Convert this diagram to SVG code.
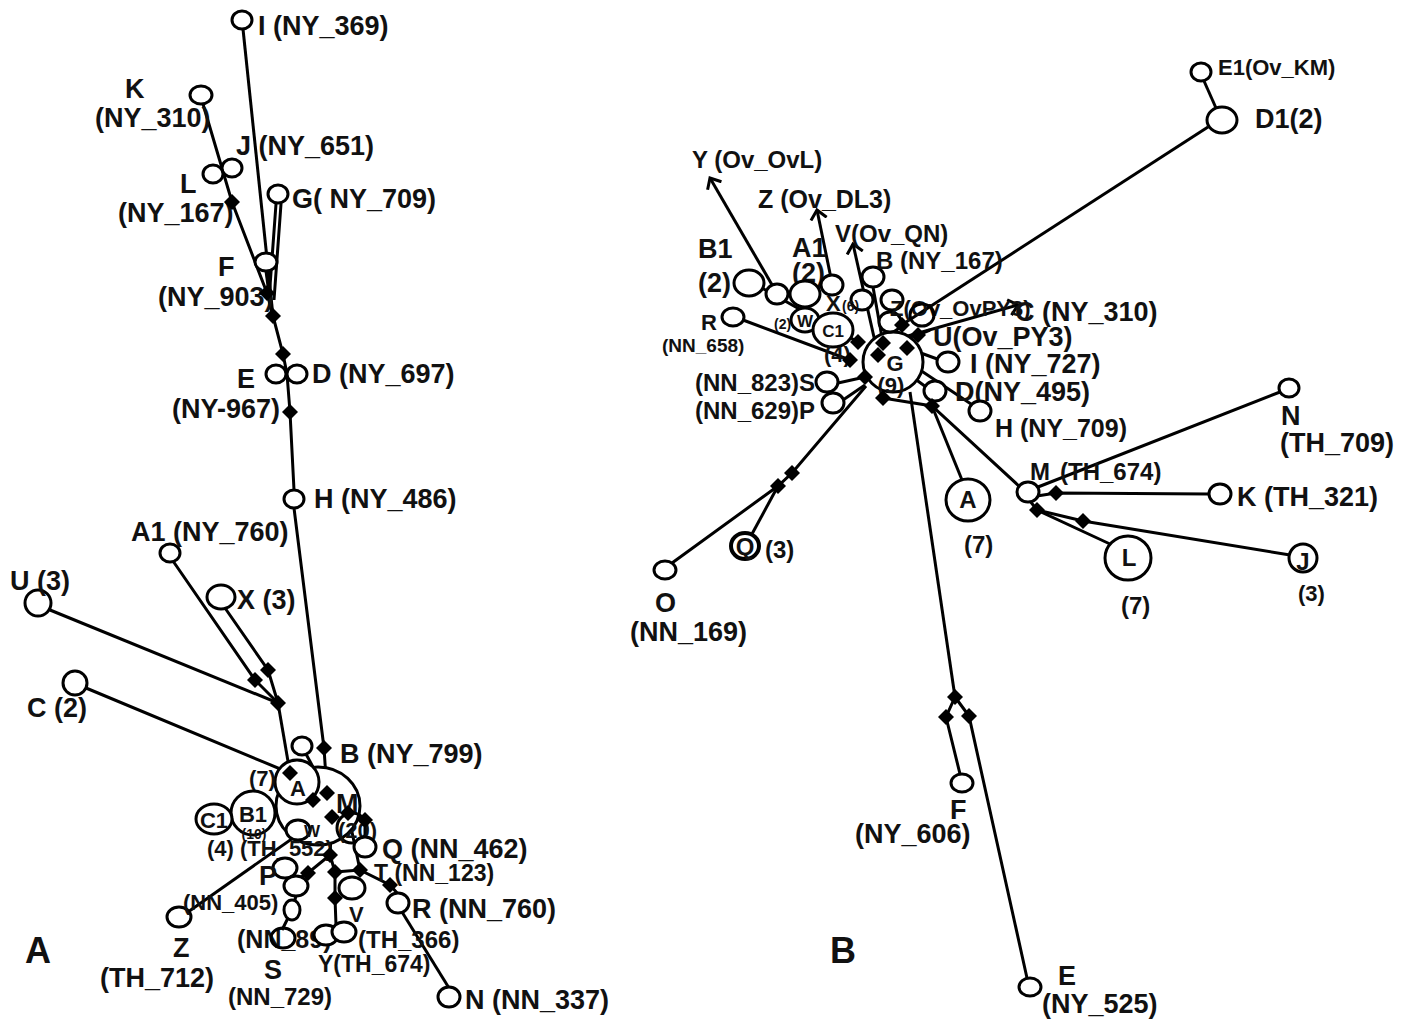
<svg xmlns="http://www.w3.org/2000/svg" xmlns:xlink="http://www.w3.org/1999/xlink" width="1408" height="1020" viewBox="0 0 1408 1020">
<style>
  .e{stroke:#000;stroke-width:3;fill:none}
  .n{fill:#fff;stroke:#000;stroke-width:3}
  .d{fill:#000}
  text{font-family:"Liberation Sans",Arial,sans-serif;font-weight:bold;fill:#111}
  .t{font-size:27px}
  .m{font-size:24px}
  .s{font-size:22px}
  .xs{font-size:17px}
  .xxs{font-size:14px}
  .p{font-size:36px}
  .c{text-anchor:middle}
</style>
<defs>
  <path id="dm" class="d" d="M0,-8 L8,0 L0,8 L-8,0Z"/>
  <marker id="ar" viewBox="0 0 20 20" refX="10" refY="10" markerWidth="20" markerHeight="20" markerUnits="userSpaceOnUse" orient="auto">
    <path d="M1,2 L10,10 L1,18" fill="none" stroke="#000" stroke-width="3"/>
  </marker>
</defs>
<rect width="1408" height="1020" fill="#fff"/>

<!-- ===== Panel A: connectors ===== -->
<g id="edges-a">
  <path class="e" d="M243,29 L273,316"/>
  <path class="e" d="M203,104 L232,202 L267,293 L273,316"/>
  <path class="e" d="M276,204 L269,300 M281,204 L274,300"/>
  <path class="e" d="M266,271 L272,316"/>
  <path class="e" d="M273,316 L283,354 L287,374 L290,412 L294,490"/>
  <path class="e" d="M294,508 L324,748 L327,793"/>
  <path class="e" d="M306,754 L327,793"/>
  <path class="e" d="M173,561 L255,680 L278,703"/>
  <path class="e" d="M225,608 L268,670 L278,703"/>
  <path class="e" d="M50,610 L278,703"/>
  <path class="e" d="M278,703 L290,773"/>
  <path class="e" d="M86,688 L290,773 L313,800"/>
  <path class="e" d="M188,912 L330,812"/>
  <path class="e" d="M313,800 L332,817 L348,813 L365,820"/>
  <path class="e" d="M327,793 L332,817 L330,855 L335,872 L335,898 L336,925"/>
  <path class="e" d="M348,813 L360,870 L390,885 L398,894"/>
  <path class="e" d="M365,820 L365,838"/>
  <path class="e" d="M330,855 L308,873 L296,880"/>
  <path class="e" d="M335,872 L360,870"/>
  <path class="e" d="M296,896 L292,910 L282,930"/>
  <path class="e" d="M402,912 L449,988"/>
</g>

<!-- ===== Panel A: nodes ===== -->
<g id="node-a-I"><ellipse class="n" cx="242" cy="20" rx="10" ry="9"/><text class="t" x="258" y="35">I (NY_369)</text></g>
<g id="node-a-K"><ellipse class="n" cx="201" cy="95" rx="11" ry="9"/><text class="t" x="125" y="98">K</text><text class="t" x="95" y="127">(NY_310)</text></g>
<g id="node-a-J"><ellipse class="n" cx="232" cy="168" rx="10" ry="9"/><text class="t" x="236" y="155">J (NY_651)</text></g>
<g id="node-a-L"><ellipse class="n" cx="213" cy="174" rx="10" ry="9"/><text class="t" x="180" y="193">L</text><text class="t" x="118" y="222">(NY_167)</text></g>
<g id="node-a-G"><ellipse class="n" cx="278" cy="194" rx="10" ry="9"/><text class="t" x="292" y="208">G( NY_709)</text></g>
<g id="node-a-F"><ellipse class="n" cx="266" cy="262" rx="11" ry="9"/><text class="t" x="218" y="276">F</text><text class="t" x="158" y="306">(NY_903)</text></g>
<g id="node-a-E"><ellipse class="n" cx="276" cy="374" rx="10" ry="9"/><text class="t" x="237" y="388">E</text><text class="t" x="172" y="418">(NY-967)</text></g>
<g id="node-a-D"><ellipse class="n" cx="297" cy="374" rx="10" ry="9"/><text class="t" x="312" y="383">D (NY_697)</text></g>
<g id="node-a-H"><ellipse class="n" cx="294" cy="499" rx="10" ry="9"/><text class="t" x="314" y="508">H (NY_486)</text></g>
<g id="node-a-A1"><ellipse class="n" cx="170" cy="553" rx="10" ry="9"/><text class="t" x="131" y="541">A1 (NY_760)</text></g>
<g id="node-a-X"><ellipse class="n" cx="221" cy="597" rx="14" ry="12"/><text class="t" x="237" y="609">X (3)</text></g>
<g id="node-a-U"><ellipse class="n" cx="38" cy="603" rx="13" ry="13"/><text class="t" x="10" y="590">U (3)</text></g>
<g id="node-a-C"><ellipse class="n" cx="75" cy="683" rx="12" ry="12"/><text class="t" x="27" y="717">C (2)</text></g>
<g id="node-a-M"><ellipse class="n" cx="318" cy="806" rx="42" ry="39"/><text class="t" x="336" y="813">M</text></g>
<g id="node-a-A"><ellipse class="n" cx="297" cy="782" rx="22" ry="22"/><text class="s" x="290" y="796">A</text><text class="s" x="249" y="786">(7)</text></g>
<g id="node-a-B"><ellipse class="n" cx="302" cy="746" rx="10" ry="9"/><text class="t" x="340" y="763">B (NY_799)</text></g>
<g id="node-a-B1"><ellipse class="n" cx="253" cy="813" rx="22" ry="22"/><text class="s c" x="253" y="822">B1</text><text class="xxs c" x="254" y="839">(10)</text></g>
<g id="node-a-C1"><ellipse class="n" cx="214" cy="819" rx="18" ry="15"/><text class="s c" x="214" y="828">C1</text><text class="s" x="207" y="856">(4)</text></g>
<g id="node-a-W"><ellipse class="n" cx="298" cy="830" rx="12" ry="10"/><text class="xs" x="304" y="837">W</text><text class="s" x="240" y="856">(TH_552)</text></g>
<g id="node-a-20"><ellipse class="e" cx="352" cy="828" rx="15" ry="15"/><text class="s" x="338" y="838">(20)</text></g>
<g id="node-a-Q"><ellipse class="n" cx="365" cy="847" rx="11" ry="10"/><text class="t" x="382" y="858">Q (NN_462)</text></g>
<g id="node-a-T"><ellipse class="n" cx="352" cy="888" rx="13" ry="11"/><text class="s" x="374" y="881" style="font-size:23px">T (NN_123)</text></g>
<g id="node-a-R"><ellipse class="n" cx="398" cy="903" rx="11" ry="10"/><text class="t" x="412" y="918">R (NN_760)</text></g>
<g id="node-a-N"><ellipse class="n" cx="449" cy="997" rx="11" ry="10"/><text class="t" x="465" y="1009">N (NN_337)</text></g>
<g id="node-a-P"><ellipse class="n" cx="285" cy="868" rx="12" ry="10"/><ellipse class="n" cx="296" cy="886" rx="12" ry="10"/><text class="t" x="259" y="885">P</text></g>
<g id="node-a-o"><ellipse class="n" cx="292" cy="910" rx="8" ry="10"/></g>
<g id="node-a-S"><text class="m" x="237" y="948" style="font-size:25px">(NN_89)</text><ellipse class="e" cx="283" cy="938" rx="12" ry="10"/><text class="t" x="264" y="979">S</text><text class="m" x="228" y="1005">(NN_729)</text></g>
<g id="node-a-Y"><ellipse class="n" cx="326" cy="935" rx="12" ry="10"/><text class="m" x="318" y="972" style="font-size:23px">Y(TH_674)</text></g>
<g id="node-a-V"><ellipse class="n" cx="344" cy="932" rx="12" ry="10"/><text class="s" x="349" y="922">V</text><text class="m" x="358" y="948">(TH_366)</text></g>
<g id="node-a-Z"><ellipse class="n" cx="179" cy="917" rx="12" ry="10"/><text class="s" x="183" y="910">(NN_405)</text><text class="t" x="173" y="957">Z</text><text class="t" x="100" y="987">(TH_712)</text></g>

<!-- ===== Panel A: median vectors ===== -->
<g id="mv-a">
  <use href="#dm" x="232" y="202"/><use href="#dm" x="267" y="293"/><use href="#dm" x="273" y="316"/>
  <use href="#dm" x="283" y="354"/><use href="#dm" x="290" y="412"/>
  <use href="#dm" x="255" y="680"/><use href="#dm" x="268" y="670"/><use href="#dm" x="278" y="703"/>
  <use href="#dm" x="324" y="748"/><use href="#dm" x="290" y="773"/>
  <use href="#dm" x="313" y="800"/><use href="#dm" x="327" y="793"/><use href="#dm" x="332" y="817"/>
  <use href="#dm" x="348" y="813"/><use href="#dm" x="365" y="820"/>
  <use href="#dm" x="330" y="855"/><use href="#dm" x="308" y="873"/><use href="#dm" x="335" y="872"/>
  <use href="#dm" x="360" y="870"/><use href="#dm" x="335" y="898"/><use href="#dm" x="390" y="885"/>
</g>
<text class="p" x="25" y="963">A</text>

<!-- ===== Panel B: connectors ===== -->
<g id="edges-b">
  <path class="e" d="M1204,81 L1216,108"/>
  <path class="e" d="M1208,127 L883,337"/>
  <path class="e" d="M775,290 L710,178" marker-end="url(#ar)"/>
  <path class="e" d="M832,283 L817,210" marker-end="url(#ar)"/>
  <path class="e" d="M878,355 L853,244" marker-end="url(#ar)"/>
  <path class="e" d="M883,343 L1018,305" marker-end="url(#ar)"/>
  <path class="e" d="M873,287 L883,343"/>
  <path class="e" d="M762,288 L858,342"/>
  <path class="e" d="M743,320 L850,360"/>
  <path class="e" d="M883,343 L918,335 L930,330"/>
  <path class="e" d="M907,348 L940,360"/>
  <path class="e" d="M903,370 L926,387"/>
  <path class="e" d="M917,368 L971,404"/>
  <path class="e" d="M838,383 L865,377"/>
  <path class="e" d="M843,400 L865,385"/>
  <path class="e" d="M672,563 L778,486 L792,473 L866,386"/>
  <path class="e" d="M752,534 L778,486"/>
  <path class="e" d="M883,398 L932,406 L1020,487"/>
  <path class="e" d="M932,406 L962,480"/>
  <path class="e" d="M910,392 L955,697"/>
  <path class="e" d="M955,697 L946,717 L960,774"/>
  <path class="e" d="M955,697 L969,716 L1027,978"/>
  <path class="e" d="M1038,487 L1280,392"/>
  <path class="e" d="M1037,496 L1056,493 L1209,494"/>
  <path class="e" d="M1030,501 L1037,510 L1110,544"/>
  <path class="e" d="M1037,510 L1083,521 L1290,555"/>
</g>

<!-- ===== Panel B: nodes ===== -->
<g id="node-b-E1"><ellipse class="n" cx="1201" cy="72" rx="10" ry="9"/><text class="s" x="1218" y="75">E1(Ov_KM)</text></g>
<g id="node-b-D1"><ellipse class="n" cx="1222" cy="120" rx="15" ry="13"/><text class="t" x="1255" y="128">D1(2)</text></g>
<g id="label-b-Y"><text class="m" x="692" y="168">Y (Ov_OvL)</text></g>
<g id="label-b-Z"><text class="m" x="758" y="208" style="font-size:25px">Z (Ov_DL3)</text></g>
<g id="label-b-V"><text class="m" x="835" y="242">V(Ov_QN)</text></g>
<g id="node-b-B1"><ellipse class="n" cx="749" cy="283" rx="15" ry="13"/><text class="t" x="698" y="258">B1</text><text class="t" x="698" y="292">(2)</text></g>
<g id="node-b-A1"><text class="t" x="792" y="257">A1</text><text class="t" x="792" y="282">(2)</text><ellipse class="n" cx="777" cy="294" rx="11" ry="10"/><ellipse class="n" cx="805" cy="294" rx="15" ry="13"/><ellipse class="n" cx="832" cy="285" rx="11" ry="10"/></g>
<g id="node-b-B"><ellipse class="n" cx="873" cy="277" rx="11" ry="10"/><text class="m" x="876" y="269">B (NY_167)</text></g>
<g id="node-b-X"><ellipse class="n" cx="862" cy="300" rx="11" ry="10"/><text class="s" x="826" y="311">X</text><text class="xxs" x="842" y="311">(6)</text></g>
<g id="node-b-W"><ellipse class="n" cx="805" cy="320" rx="14" ry="12"/><text class="xs c" x="805" y="327">W</text><text class="xxs" x="774" y="329">(2)</text></g>
<g id="node-b-C1"><ellipse class="n" cx="833" cy="330" rx="20" ry="17"/><text class="xs c" x="833" y="337">C1</text><text class="s" x="824" y="362">(4)</text></g>
<g id="node-b-R"><ellipse class="n" cx="733" cy="317" rx="11" ry="9"/><text class="s" x="701" y="330">R</text><text class="xs" x="662" y="352" style="font-size:19px">(NN_658)</text></g>
<g id="node-b-G"><ellipse class="n" cx="893" cy="362" rx="30" ry="30"/><text class="s c" x="895" y="371">G</text><text class="s c" x="891" y="393">(9)</text></g>
<g id="node-b-Z"><ellipse class="n" cx="892" cy="300" rx="11" ry="10"/><ellipse class="n" cx="890" cy="322" rx="11" ry="10"/><text class="s" x="890" y="316">Z(Ov_OvPY3)</text></g>
<g id="node-b-C"><ellipse class="e" cx="922" cy="315" rx="12" ry="11"/><text class="t" x="1015" y="321">C (NY_310)</text></g>
<g id="node-b-U"><text class="t" x="933" y="346">U(Ov_PY3)</text></g>
<g id="node-b-S"><ellipse class="n" cx="827" cy="382" rx="11" ry="10"/><text class="m" x="695" y="391">(NN_823)S</text></g>
<g id="node-b-P"><ellipse class="n" cx="833" cy="403" rx="11" ry="10"/><text class="m" x="695" y="419">(NN_629)P</text></g>
<g id="node-b-I"><ellipse class="n" cx="948" cy="362" rx="11" ry="10"/><text class="t" x="970" y="373">I (NY_727)</text></g>
<g id="node-b-D"><ellipse class="n" cx="935" cy="391" rx="11" ry="10"/><text class="t" x="955" y="401">D(NY_495)</text></g>
<g id="node-b-H"><ellipse class="n" cx="980" cy="411" rx="11" ry="10"/><text class="t" x="995" y="437" style="font-size:25px">H (NY_709)</text></g>
<g id="node-b-A"><ellipse class="n" cx="968" cy="500" rx="22" ry="21"/><text class="m c" x="968" y="508">A</text><text class="m" x="964" y="553">(7)</text></g>
<g id="node-b-M"><ellipse class="n" cx="1028" cy="492" rx="11" ry="10"/><text class="m" x="1030" y="480">M</text><text class="m" x="1060" y="480">(TH_674)</text></g>
<g id="node-b-K"><ellipse class="n" cx="1220" cy="494" rx="11" ry="10"/><text class="t" x="1237" y="506">K (TH_321)</text></g>
<g id="node-b-N"><ellipse class="n" cx="1289" cy="388" rx="10" ry="9"/><text class="t" x="1281" y="425">N</text><text class="t" x="1280" y="452">(TH_709)</text></g>
<g id="node-b-L"><ellipse class="n" cx="1128" cy="558" rx="23" ry="22"/><text class="m c" x="1129" y="566">L</text><text class="m" x="1121" y="614">(7)</text></g>
<g id="node-b-J"><ellipse class="n" cx="1303" cy="558" rx="14" ry="14"/><text class="m c" x="1303" y="570">J</text><text class="s" x="1298" y="601">(3)</text></g>
<g id="node-b-Q"><ellipse class="n" cx="745" cy="546" rx="14" ry="13" style="stroke-width:4"/><text class="m c" x="745" y="555">Q</text><text class="m" x="765" y="558">(3)</text></g>
<g id="node-b-O"><ellipse class="n" cx="665" cy="570" rx="11" ry="9"/><text class="t" x="655" y="612">O</text><text class="t" x="630" y="641">(NN_169)</text></g>
<g id="node-b-F"><ellipse class="n" cx="962" cy="783" rx="11" ry="9"/><text class="t" x="950" y="819">F</text><text class="t" x="855" y="843">(NY_606)</text></g>
<g id="node-b-E"><ellipse class="n" cx="1030" cy="987" rx="11" ry="9"/><text class="t" x="1058" y="985">E</text><text class="t" x="1042" y="1013">(NY_525)</text></g>

<!-- ===== Panel B: median vectors ===== -->
<g id="mv-b">
  <use href="#dm" x="858" y="342"/><use href="#dm" x="850" y="360"/><use href="#dm" x="865" y="377"/>
  <use href="#dm" x="878" y="355"/><use href="#dm" x="883" y="343"/><use href="#dm" x="907" y="348"/>
  <use href="#dm" x="883" y="398"/><use href="#dm" x="902" y="325"/><use href="#dm" x="918" y="335"/>
  <use href="#dm" x="932" y="406"/>
  <use href="#dm" x="792" y="473"/><use href="#dm" x="778" y="486"/>
  <use href="#dm" x="955" y="697"/><use href="#dm" x="946" y="717"/><use href="#dm" x="969" y="716"/>
  <use href="#dm" x="1056" y="493"/><use href="#dm" x="1037" y="510"/><use href="#dm" x="1083" y="521"/>
</g>
<text class="p" x="830" y="963">B</text>
</svg>
